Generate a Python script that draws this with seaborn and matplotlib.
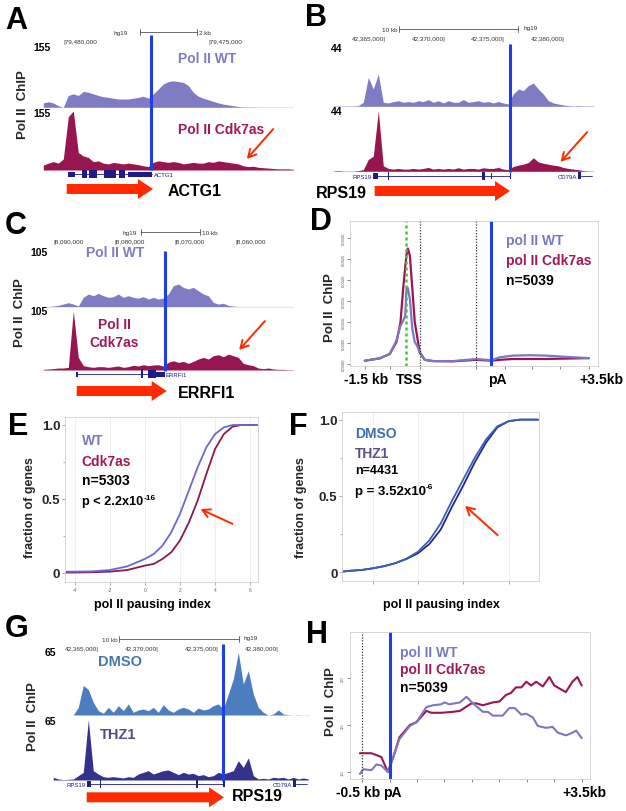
import numpy as np
import pandas as pd
import matplotlib
matplotlib.use("Agg")
import matplotlib.pyplot as plt
import seaborn as sns
from matplotlib.patches import Rectangle, FancyArrow

# ---------------- data ----------------
# genome browser tracks (signal per 5 px bin, left to right)
actg1_wt = [11, 14, 11, 4, 0, 30, 34, 30, 40, 38, 34, 30, 27, 25, 23, 21, 21, 21, 23, 25,
            28, 23, 34, 46, 59, 65, 67, 65, 63, 55, 38, 28, 23, 19, 15, 11, 8, 6, 4, 2,
            1, 1, 1, 0.5, 0.5, 0.5, 0.5, 0.5, 0.5, 0.5, 0.5]
actg1_cdk = [13, 18, 22, 18, 29, 140, 155, 46, 37, 33, 22, 24, 18, 16, 20, 18, 16, 18, 16, 14,
             11, 9, 20, 24, 22, 20, 22, 20, 16, 18, 20, 18, 18, 22, 20, 24, 22, 20, 18, 16,
             11, 9, 10, 7, 6, 5, 4, 3, 3, 3, 2]
rps19_wt = [0.3, 0.3, 0.3, 0.3, 0.3, 0.5, 3, 21.6, 12.9, 24, 3, 2.5, 3.5, 4.2, 3, 3.5, 3, 4.2,
            3.5, 5, 3, 4.2, 2.5, 4.2, 3, 3, 5, 3, 3.5, 4.2, 3, 3.5, 2.5, 3.5, 2.5, 1.7, 9.2,
            12.9, 11.7, 15.4, 17.4, 12.9, 9.2, 4.2, 2.5, 1.7, 1, 0.5, 0.3, 0.5, 0.3, 0.3, 0.3]
rps19_cdk = [0.2, 0.5, 0.2, 0.2, 0.2, 0.5, 1.2, 8.7, 11, 44, 4, 2.1, 1.6, 2.1, 1.6, 1.6, 2.1,
             1.6, 2.1, 2.8, 1.6, 2.1, 1.6, 2.1, 1.6, 2.6, 1.6, 2.1, 2.1, 1.6, 2.6, 2.1, 2.1,
             2.8, 1.6, 1.2, 3.5, 4.5, 5.2, 6.4, 9.9, 6.8, 5.9, 5.2, 4.5, 4, 2.8, 2.1, 1.6,
             1.2, 0.5, 0.2, 0.2]
errfi1_wt = [0.5, 0.5, 1.3, 2.6, 5.1, 7.7, 5.1, 1.3, 17.9, 24.3, 21.1, 25.6, 21.1, 17.9, 19.2,
             24.3, 17.9, 21.1, 17.9, 16.6, 19.2, 14.7, 17.9, 14.7, 16.6, 24.3, 40.3, 43.5,
             37.1, 33.9, 37.1, 30.7, 24.3, 21.1, 8.3, 5.1, 6.4, 2.6, 1.3, 0.5, 0.5, 0.5, 0.5,
             0.5, 0.5, 0.5, 0.5, 0.5, 0.5, 0.5, 0.5]
errfi1_cdk = [1.2, 1.8, 2.4, 3.5, 3.5, 4.7, 105, 22.4, 7.7, 5.9, 4.7, 5.9, 5.9, 4.7, 5.9, 7.1,
              4.7, 5.9, 8.3, 7.1, 9.4, 7.7, 8.9, 9.4, 7.1, 13.6, 16.5, 13.6, 15.3, 11.8, 15.3,
              19.5, 22.4, 19.5, 25.4, 27.1, 23.6, 28.3, 25.4, 22.4, 11.8, 9.4, 7.7, 3.5, 2.4,
              3.5, 1.8, 1.2, 1.2, 0.6, 0.6]
rps19_dmso = [0, 0, 0, 0, 0, 7.8, 30, 26, 12.9, 4.4, 1.7, 7.8, 2.7, 9.5, 4.4, 11.2, 2.7, 5.1,
              6.1, 4.4, 7.8, 2.7, 10.5, 5.1, 2.7, 6.1, 7.8, 6.1, 2.7, 7.1, 5.1, 6.1, 9.5, 11.2,
              6.1, 21.3, 36.6, 63.6, 31.5, 45, 21.3, 7.8, 2.7, 0, 1, 5.1, 1, 0.3, 0, 0.3, 0, 0.3]
rps19_thz1 = [2.9, 1.1, 0.4, 0.7, 1.1, 4.7, 8.3, 65, 10.1, 6.5, 3.6, 2.9, 3.6, 2.9, 2.2, 3.6,
              2.9, 6.5, 8.3, 10.1, 6.5, 8.3, 10.1, 10.8, 8.3, 5.8, 8.3, 6.5, 7.2, 4.7, 5.8, 3.6,
              4.7, 8.3, 6.5, 8.3, 10.1, 20.9, 13.7, 24, 4.7, 1.1, 1.8, 1.1, 2.9, 2.2, 2.9, 1.1,
              2.9, 1.1, 2.2, 1.1]

# D: metagene (scaled position, -1.5 kb = 0, +3.5 kb = 100)
d_pos = [0, 6.7, 11.1, 14.1, 15.9, 17.1, 18.0, 18.6, 19.2, 20.1, 21.2, 22.3, 23.3, 24.5,
         26.7, 30.5, 39.4, 49.8, 56.5, 60.2, 66.1, 73.6, 81.0, 89.9, 100]
d_wt = [0.000079, 0.000136, 0.000238, 0.00056, 0.00091, 0.00103, 0.00115, 0.00179, 0.00181,
        0.00155, 0.00083, 0.00052, 0.00044, 0.00028, 0.0001, 0.00007, 0.00007, 0.00012,
        0.00009, 0.00016, 0.0002, 0.00021, 0.0002, 0.00017, 0.00014]
d_cdk = [0.000079, 0.000136, 0.000238, 0.00052, 0.00099, 0.00179, 0.0023, 0.0026, 0.00275,
         0.00258, 0.00179, 0.00099, 0.00067, 0.00028, 0.0001, 0.00007, 0.000064, 0.0001,
         0.000079, 0.0001, 0.00012, 0.00012, 0.00012, 0.00013, 0.00014]

# E / F: cumulative fraction of genes vs pausing index
e_x = [-4.5, -4, -3, -2, -1, 0, 0.5, 1, 1.5, 2, 2.5, 3, 3.5, 4, 4.5, 5, 5.5, 6, 6.4]
e_wt = [0.009, 0.009, 0.011, 0.02, 0.045, 0.095, 0.128, 0.185, 0.275, 0.40, 0.556, 0.713,
        0.849, 0.939, 0.984, 1.0, 1.0, 1.0, 1.0]
e_cdk = [0.003, 0.003, 0.005, 0.009, 0.02, 0.05, 0.061, 0.095, 0.14, 0.22, 0.34, 0.488,
         0.668, 0.838, 0.939, 0.989, 1.0, 1.0, 1.0]
f_x = [-3.3, -3, -2.5, -2, -1.5, -1, -0.5, 0, 0.5, 1, 1.5, 2, 2.5, 3, 3.5, 4, 4.5, 5, 5.3]
f_dmso = [0.005, 0.01, 0.015, 0.026, 0.04, 0.06, 0.09, 0.135, 0.21, 0.32, 0.47, 0.61, 0.75,
          0.87, 0.957, 0.99, 1.0, 1.0, 1.0]
f_thz1 = [0.005, 0.01, 0.015, 0.026, 0.04, 0.06, 0.088, 0.125, 0.185, 0.28, 0.43, 0.57, 0.72,
          0.85, 0.95, 0.99, 1.0, 1.0, 1.0]

# H: signal around pA (kb)
h_wt_x = [-0.54, -0.48, -0.33, -0.24, -0.15, -0.03, 0.03, 0.18, 0.37, 0.49, 0.67, 0.79, 0.94,
          1.0, 1.09, 1.28, 1.4, 1.52, 1.7, 1.79, 1.88, 2.06, 2.18, 2.28, 2.4, 2.49, 2.61, 2.7,
          2.85, 2.97, 3.06, 3.21, 3.3, 3.4, 3.5]
h_wt = [0.98, 1.03, 1.02, 1.08, 1.07, 1.0, 1.10, 1.35, 1.49, 1.53, 1.69, 1.71, 1.72, 1.74, 1.72,
        1.74, 1.8, 1.73, 1.64, 1.64, 1.60, 1.60, 1.68, 1.68, 1.61, 1.62, 1.58, 1.49, 1.47, 1.48,
        1.42, 1.39, 1.41, 1.44, 1.36]
h_cdk_x = [-0.54, -0.33, -0.15, -0.03, 0.07, 0.18, 0.37, 0.49, 0.67, 0.76, 0.94, 1.15, 1.28,
           1.49, 1.58, 1.7, 1.88, 2.0, 2.12, 2.21, 2.3, 2.4, 2.49, 2.58, 2.67, 2.79, 2.91, 3.0,
           3.21, 3.33, 3.42, 3.5]
h_cdk = [1.20, 1.20, 1.16, 1.0, 1.16, 1.37, 1.50, 1.53, 1.65, 1.63, 1.63, 1.64, 1.65, 1.73,
         1.73, 1.71, 1.74, 1.75, 1.82, 1.84, 1.90, 1.90, 1.96, 1.92, 1.96, 1.91, 2.01, 1.92,
         1.85, 1.96, 2.01, 1.92]

# ---------------- styling ----------------
sns.set_style("ticks")
plt.rcParams['font.family'] = ['Liberation Sans', 'DejaVu Sans']

WT_FILL = '#7f7cc4'
CDK_FILL = '#98164f'
DMSO_FILL = '#4b7dbf'
THZ_FILL = '#34338c'
BLUE = '#1f3fe6'
RED = '#ff2a00'
NAVY = '#1c1c8a'
WT_TXT = '#7f7cc4'
CDK_TXT = '#a01a59'

W, H = 626, 812
fig = plt.figure(figsize=(W / 100, H / 100), dpi=100)


def px_axes(x0, y0, x1, y1):
    return fig.add_axes([x0 / W, 1 - y1 / H, (x1 - x0) / W, (y1 - y0) / H])


def draw_track(vals, x0, x1, y0, y1, ymax, color):
    ax = px_axes(x0, y0, x1, y1)
    pos = np.arange(len(vals))
    ax.fill_between(pos, np.minimum(vals, ymax), color=color, lw=0)
    ax.axhline(0, color=color, lw=0.6)
    ax.set_xlim(-0.5, len(vals) - 0.5)
    ax.set_ylim(0, ymax)
    ax.axis('off')
    return ax


def style_box(ax):
    for s in ax.spines.values():
        s.set_color('#cfcfcf')
        s.set_linewidth(0.6)
    ax.set_xlabel('')
    ax.set_ylabel('')


# ---------------- genome tracks (A, B, C, G) ----------------
draw_track(actg1_wt, 40.8, 295.8, 47, 108.3, 155, WT_FILL)
draw_track(actg1_cdk, 40.8, 295.8, 112, 171, 155, CDK_FILL)
draw_track(rps19_wt, 330.8, 595.8, 48.3, 107.3, 44, WT_FILL)
draw_track(rps19_cdk, 330.8, 595.8, 112, 172.3, 44, CDK_FILL)
draw_track(errfi1_wt, 40.8, 295.8, 253, 307.7, 105, WT_FILL)
draw_track(errfi1_cdk, 40.8, 295.8, 312, 371, 105, CDK_FILL)
draw_track(rps19_dmso, 50.8, 310.8, 652, 716, 65, DMSO_FILL)
draw_track(rps19_thz1, 50.8, 310.8, 721, 781, 65, THZ_FILL)

# ---------------- D: metagene profile ----------------
axD = px_axes(350.3, 221.7, 598, 366.7)
df_d = pd.DataFrame({'pos': d_pos + d_pos, 'signal': d_cdk + d_wt,
                     'sample': ['Cdk7as'] * len(d_pos) + ['WT'] * len(d_pos)})
sns.lineplot(data=df_d, x='pos', y='signal', hue='sample', hue_order=['Cdk7as', 'WT'],
             palette={'WT': '#7b78c2', 'Cdk7as': '#9b1552'}, lw=1.6, legend=False,
             estimator=None, ax=axD)
axD.axvline(18.3, color='#3cc83c', ls=(0, (1.2, 1.2)), lw=1.8)
axD.axvline(24.5, color='#333333', ls=(0, (1, 1.3)), lw=0.9)
axD.axvline(49.8, color='#333333', ls=(0, (1, 1.3)), lw=0.9)
axD.axvline(56.5, color=BLUE, lw=2.2)
axD.set_xlim(-6.5, 104.1)
axD.set_ylim(-0.00004, 0.003412)
axD.set_xticks([0, 11.4, 24.5, 49.8, 62.4, 74.7, 87.2, 100])
axD.set_xticklabels([])
d_yt = [0, 0.0005, 0.001, 0.0015, 0.002, 0.0025, 0.003]
axD.set_yticks(d_yt)
axD.set_yticklabels(['%.4f' % v for v in d_yt], fontsize=3, rotation=90, va='center',
                    color='#555555')
axD.tick_params(length=2.5, width=0.5, color='#555555', pad=1)
style_box(axD)

# ---------------- E: CDF WT vs Cdk7as ----------------
axE = px_axes(65, 418.3, 257.7, 582.7)
df_e = pd.DataFrame({'pi': e_x + e_x, 'frac': e_wt + e_cdk,
                     'sample': ['WT'] * len(e_x) + ['Cdk7as'] * len(e_x)})
sns.lineplot(data=df_e, x='pi', y='frac', hue='sample', hue_order=['Cdk7as', 'WT'],
             palette={'WT': '#6b69d0', 'Cdk7as': '#8a1a4c'}, lw=1.3, legend=False,
             estimator=None, ax=axE)
axE.set_xlim(-4.56, 6.43)
axE.set_ylim(-0.059, 1.052)
axE.set_xticks([-4, -2, 0, 2, 4, 6])
axE.set_xticklabels(['-4', '-2', '0', '2', '4', '6'], fontsize=3.5, color='#666666')
axE.set_yticks([0, 0.5, 1.0])
axE.set_yticklabels(['0', '0.5', '1.0'], fontsize=9.5, fontweight='bold')
axE.set_yticks([0.25, 0.75], minor=True)
axE.tick_params(length=2, width=0.5, color='#888888', pad=1.5)
axE.tick_params(which='minor', length=1.5, width=0.5, color='#888888')
axE.grid(True, axis='x', color='#ececec', lw=0.6)
style_box(axE)

# ---------------- F: CDF DMSO vs THZ1 ----------------
axF = px_axes(342.3, 413.3, 538.7, 581.7)
df_f = pd.DataFrame({'pi': f_x + f_x, 'frac': f_dmso + f_thz1,
                     'sample': ['DMSO'] * len(f_x) + ['THZ1'] * len(f_x)})
sns.lineplot(data=df_f, x='pi', y='frac', hue='sample', hue_order=['THZ1', 'DMSO'],
             palette={'DMSO': '#3a60b2', 'THZ1': '#23288a'}, lw=1.3, legend=False,
             estimator=None, ax=axF)
axF.set_xlim(-3.34, 5.32)
axF.set_ylim(-0.055, 1.048)
axF.set_xticks([-2, 0, 2, 4])
axF.set_xticklabels([])
axF.set_yticks([0, 0.5, 1.0])
axF.set_yticklabels(['0', '0.5', '1.0'], fontsize=9.5, fontweight='bold')
axF.set_yticks([0.25, 0.75], minor=True)
axF.tick_params(length=2, width=0.5, color='#888888', pad=1.5)
axF.tick_params(which='minor', length=1.5, width=0.5, color='#888888')
axF.grid(True, axis='x', color='#ececec', lw=0.6)
style_box(axF)

# ---------------- H: profile around pA ----------------
axH = px_axes(350, 633, 590, 780)
df_h = pd.DataFrame({'kb': h_cdk_x + h_wt_x, 'signal': h_cdk + h_wt,
                     'sample': ['Cdk7as'] * len(h_cdk_x) + ['WT'] * len(h_wt_x)})
sns.lineplot(data=df_h, x='kb', y='signal', hue='sample', hue_order=['Cdk7as', 'WT'],
             palette={'WT': '#7b78c2', 'Cdk7as': '#9b1552'}, lw=1.5, legend=False,
             estimator=None, ax=axH)
axH.axvline(-0.5, color='#333333', ls=(0, (1, 1.3)), lw=0.9)
axH.axvline(0, color=BLUE, lw=2.2)
axH.set_xlim(-0.72, 3.65)
axH.set_ylim(0.926, 2.489)
axH.set_xticks(np.arange(-0.5, 3.51, 0.5))
axH.set_xticklabels([])
axH.set_yticks([1.0, 1.5, 2.0])
axH.set_yticklabels(['1.0', '1.5', '2.0'], fontsize=3, rotation=90, va='center',
                    color='#555555')
axH.tick_params(length=2.5, width=0.5, color='#555555', pad=1)
style_box(axH)

# ---------------- overlay: annotations and text ----------------
ov = fig.add_axes([0, 0, 1, 1])
ov.set_xlim(0, W)
ov.set_ylim(H, 0)
ov.axis('off')


def label(x, y, s, size, color='black', weight='bold', ha='left'):
    ov.text(x, y + 0.36 * size * 100 / 72, s, fontsize=size, color=color,
            fontweight=weight, ha=ha, va='baseline')


def ylab(x, y, s, size=9.5):
    ov.text(x, y, s, fontsize=size, fontweight='bold', rotation=90, ha='center', va='center')


def blue_line(x, y0, y1):
    ov.plot([x, x], [y0, y1], color=BLUE, lw=2.2, solid_capstyle='butt')


def big_arrow(x0, x1, y):
    ov.add_patch(FancyArrow(x0, y, x1 - x0, 0, width=10, head_width=20, head_length=15,
                            length_includes_head=True, color=RED, lw=0))


def thin_arrow(tail, head):
    ov.annotate('', xy=head, xytext=tail,
                arrowprops=dict(arrowstyle='->,head_length=0.55,head_width=0.3',
                                color=RED, lw=1.4))


def gene(x0, x1, y, exons):
    ov.plot([x0, x1], [y, y], color=NAVY, lw=0.6)
    for a, b, h in exons:
        ov.add_patch(Rectangle((a, y - h / 2), b - a, h, color=NAVY, lw=0))


def scalebar(x0, x1, y):
    ov.plot([x0, x1], [y, y], color='#555555', lw=0.6)
    ov.plot([x0, x0], [y - 3, y + 3], color='#555555', lw=0.6)
    ov.plot([x1, x1], [y - 3, y + 3], color='#555555', lw=0.6)


def small(x, y, s, ha='left', color='#333333', size=4.6):
    label(x, y, s, size, color=color, weight='normal', ha=ha)


# panel letters
for let, x, y in [('A', 16, 18), ('B', 316, 15), ('C', 16, 223), ('D', 321, 219),
                  ('E', 18, 424), ('F', 298, 424), ('G', 17, 626), ('H', 317, 632)]:
    label(x, y, let, 22, ha='center')

# --- A ---
small(128, 33, 'hg19', ha='right')
scalebar(140, 197, 33)
small(199, 33, '2 kb')
small(63, 42, '|79,480,000')
small(208, 42, '|79,475,000')
label(33, 47, '155', 7.5)
label(33, 113, '155', 7.5)
label(177.7, 58, 'Pol II WT', 10, color=WT_TXT)
label(177.7, 129.2, 'Pol II Cdk7as', 10, color=CDK_TXT)
ylab(23, 105, 'Pol II  ChIP')
blue_line(151, 36, 171)
gene(68, 152, 175, [(68, 75, 5), (82, 87, 8), (89, 97, 8), (104, 116, 8), (119, 125, 8),
                    (128, 152, 5)])
small(153.5, 175, 'ACTG1', color=NAVY, size=4.3)
big_arrow(66.7, 153, 190)
label(168, 190, 'ACTG1', 11.5)
thin_arrow((275, 128), (245, 162))

# --- B ---
small(398, 30, '10 kb', ha='right')
scalebar(399, 518, 30)
small(523, 28, 'hg19')
for xe, s in [(385.7, '42,365,000|'), (445.7, '42,370,000|'), (504.7, '42,375,000|'),
              (564.7, '42,380,000|')]:
    small(xe, 39, s, ha='right')
label(331, 48.3, '44', 7.5)
label(331, 111.7, '44', 7.5)
blue_line(510, 45, 173)
gene(377, 510, 176.7, [(373, 378, 6), (387.5, 389, 8), (482, 484.5, 8), (490.5, 491.5, 6),
                       (509.5, 510.5, 6)])
small(372, 176.7, 'RPS19', ha='right', color=NAVY, size=4.3)
gene(581, 592, 176.7, [(578, 581, 7)])
small(577, 176.7, 'CD79A', ha='right', color=NAVY, size=4.3)
label(316, 192, 'RPS19', 11.5)
big_arrow(374.7, 510, 192)
thin_arrow((589, 131), (558.7, 165))

# --- C ---
small(137, 232.7, 'hg19', ha='right')
scalebar(140.7, 200, 232.7)
small(201.5, 232.7, '10 kb')
for xs, s in [(53.3, '|8,090,000'), (114, '|8,080,000'), (174.3, '|8,070,000'),
              (235.7, '|8,060,000')]:
    small(xs, 241.7, s)
label(30, 252.7, '105', 7.5)
label(30, 311.7, '105', 7.5)
label(86, 252.5, 'Pol II WT', 10, color=WT_TXT)
label(114, 324.2, 'Pol II', 10, color=CDK_TXT, ha='center')
label(114, 342.5, 'Cdk7as', 10, color=CDK_TXT, ha='center')
ylab(20, 313, 'Pol II  ChIP')
blue_line(165.3, 251.7, 371.7)
gene(76.7, 164, 375, [(76, 77.5, 5), (141, 142.5, 8), (148, 156, 8), (156, 165, 5)])
small(166, 375, 'ERRFI1', color=NAVY, size=4.3)
big_arrow(76.7, 166.7, 392)
label(178, 392, 'ERRFI1', 11.5)
thin_arrow((266.7, 320), (237.3, 353))

# --- D ---
ylab(330, 308, 'Pol II  ChIP')
label(505.7, 240, 'pol II WT', 10, color='#7b78c2')
label(505.7, 260, 'pol II Cdk7as', 10, color=CDK_TXT)
label(505.7, 280, 'n=5039', 10)
for xc, s in [(365.7, '-1.5 kb'), (409.7, 'TSS'), (497.3, 'pA'), (601.3, '+3.5kb')]:
    label(xc, 379, s, 10, ha='center')

# --- E ---
ylab(30, 508, 'fraction of genes', 9)
label(152, 604, 'pol II pausing index', 9, ha='center')
label(81.7, 440, 'WT', 10, color='#7a77c6')
label(81.7, 460.8, 'Cdk7as', 10, color=CDK_TXT)
label(81.7, 480, 'n=5303', 10)
label(81.7, 500.5, 'p < 2.2x10', 9.2)
label(144, 497, '-16', 6)
thin_arrow((235, 526), (198, 509))

# --- F ---
ylab(301, 508, 'fraction of genes', 9)
label(441, 604, 'pol II pausing index', 9, ha='center')
label(354.7, 433.3, 'DMSO', 10, color='#3d6eb2')
label(354.7, 453.3, 'THZ1', 10, color='#5e4b8e')
label(354.7, 470, 'n=4431', 9)
label(354.7, 490, 'p = 3.52x10', 9.5)
label(426, 486.5, '-6', 6)
thin_arrow((499.7, 538), (463, 505))

# --- G ---
small(118, 640, '10 kb', ha='right')
scalebar(119.3, 239.3, 640)
small(244, 638, 'hg19')
for xe, s in [(99, '42,365,000|'), (159, '42,370,000|'), (219, '42,375,000|'),
              (279, '42,380,000|')]:
    small(xe, 648.3, s, ha='right')
label(45, 652.7, '65', 7.5)
label(45, 721, '65', 7.5)
label(98.3, 660.8, 'DMSO', 10.5, color='#4677b5')
label(100, 734.2, 'THZ1', 10.5, color='#58478b')
ylab(33, 717, 'Pol II  ChIP')
blue_line(223.3, 645, 782)
gene(90, 224, 784.5, [(86.5, 90.5, 6), (99.5, 101, 8), (196, 198, 8), (223, 224.5, 6)])
small(85.5, 784.5, 'RPS19', ha='right', color=NAVY, size=4.3)
gene(296, 307, 784.5, [(293, 296, 7)])
small(292, 784.5, 'CD79A', ha='right', color=NAVY, size=4.3)
big_arrow(86.7, 224, 798.3)
label(232, 795, 'RPS19', 11.5)

# --- H ---
ylab(331, 702, 'Pol II  ChIP')
label(400.3, 651.7, 'pol II WT', 10, color='#7b78c2')
label(400.3, 669, 'pol II Cdk7as', 10, color=CDK_TXT)
label(400.3, 686.7, 'n=5039', 10)
for xc, s in [(358, '-0.5 kb'), (392, 'pA'), (584, '+3.5kb')]:
    label(xc, 791.7, s, 10, ha='center')

fig.savefig('out.png', dpi=100)
